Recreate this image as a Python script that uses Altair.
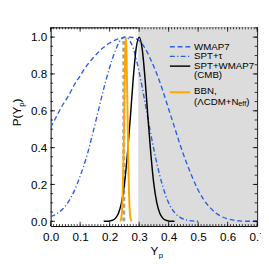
import altair as alt
import pandas as pd

# ---------------- data ----------------
wmap_x = [0.00, 0.02, 0.04, 0.06, 0.08, 0.10, 0.12, 0.14, 0.16, 0.18, 0.20, 0.22, 0.24, 0.26,
          0.28, 0.30, 0.32, 0.34, 0.36, 0.38, 0.40, 0.42, 0.44, 0.46, 0.48, 0.50, 0.52, 0.54,
          0.56, 0.58, 0.60, 0.62, 0.64, 0.66, 0.68, 0.70]
wmap_y = [0.51, 0.57, 0.63, 0.68, 0.74, 0.79, 0.84, 0.88, 0.915, 0.945, 0.968, 0.985, 0.995, 1.0,
          0.998, 0.98, 0.94, 0.875, 0.80, 0.71, 0.61, 0.51, 0.41, 0.32, 0.24, 0.17, 0.115, 0.075,
          0.045, 0.025, 0.013, 0.006, 0.002, 0.0, 0.0, 0.0]

spt_x = [0.00, 0.02, 0.04, 0.06, 0.08, 0.10, 0.12, 0.14, 0.16, 0.18, 0.20, 0.22, 0.24, 0.25,
         0.26, 0.28, 0.30, 0.32, 0.34, 0.36, 0.38, 0.40, 0.42, 0.44, 0.46, 0.48, 0.50]
spt_y = [0.025, 0.04, 0.065, 0.105, 0.165, 0.245, 0.34, 0.46, 0.59, 0.72, 0.835, 0.93, 0.99, 1.0,
         0.995, 0.94, 0.81, 0.645, 0.47, 0.315, 0.19, 0.10, 0.048, 0.02, 0.007, 0.002, 0.0]

cmb_x = [0.18, 0.19, 0.20, 0.21, 0.22, 0.23, 0.24, 0.25, 0.26, 0.27, 0.28, 0.29, 0.30,
         0.31, 0.32, 0.33, 0.34, 0.35, 0.36, 0.37, 0.38, 0.39, 0.40, 0.41, 0.42]
cmb_y = [0.0, 0.0005, 0.002, 0.006, 0.017, 0.044, 0.10, 0.20, 0.36, 0.56, 0.775, 0.94, 1.0,
         0.94, 0.775, 0.56, 0.36, 0.20, 0.10, 0.044, 0.017, 0.006, 0.002, 0.0005, 0.0]

bbn_x = [0.235, 0.238, 0.241, 0.244, 0.247, 0.250, 0.253, 0.255, 0.257, 0.260, 0.263,
         0.266, 0.269, 0.272, 0.275]
bbn_y = [0.001, 0.008, 0.039, 0.135, 0.347, 0.66, 0.936, 1.0, 0.936, 0.66, 0.347,
         0.135, 0.039, 0.008, 0.001]

ref_line_x = [0.248]
ref_line_y0 = [0.0]
ref_line_y1 = [1.0]

shade_x0 = [0.297]
shade_x1 = [0.70]

x_major = [0.0, 0.1, 0.2, 0.3, 0.4, 0.5, 0.6, 0.7]
y_major = [0.0, 0.2, 0.4, 0.6, 0.8, 1.0]
x_minor = [round(i * 0.01, 2) for i in range(71)]
y_minor = [round(i * 0.05, 2) for i in range(22)]

x_domain = [0.0, 0.7]
y_domain = [-0.026, 1.053]

# ---------------- styling ----------------
W, H = 213, 205
FONT = "Liberation Sans"
BLUE = "#2a5ee8"
ORANGE = "#ffa500"
LEG = 10

xs = alt.Scale(domain=x_domain, nice=False, zero=False)
ys = alt.Scale(domain=y_domain, nice=False, zero=False)
x_axis = alt.Axis(values=x_major, format=".1f", title=None, ticks=False, tickSize=0, domain=False,
                  grid=False, labelFlush=False, labelOverlap=False, labelFontSize=12,
                  labelFont=FONT, labelColor="black", labelPadding=6)
y_axis = alt.Axis(values=y_major, format=".1f", title=None, ticks=False, tickSize=0, domain=False,
                  grid=False, labelFlush=False, labelOverlap=False, labelFontSize=12,
                  labelFont=FONT, labelColor="black", labelPadding=4)

one = pd.DataFrame({"a": [0]})


def curve(xv, yv, color, dash=None, width=1.4):
    df = pd.DataFrame({"x": xv, "y": yv})
    kw = dict(color=color, strokeWidth=width, interpolate="monotone", clip=True)
    if dash:
        kw["strokeDash"] = dash
    return alt.Chart(df).mark_line(**kw).encode(
        x=alt.X("x:Q", scale=xs, axis=x_axis),
        y=alt.Y("y:Q", scale=ys, axis=y_axis),
    )


shade = alt.Chart(pd.DataFrame({"x0": shade_x0, "x1": shade_x1})).mark_rect(color="#dcdcdc").encode(
    x=alt.X("x0:Q", scale=xs, axis=x_axis), x2="x1:Q",
    y=alt.value(0), y2=alt.value(H),
)

ref_line = alt.Chart(pd.DataFrame({"x": ref_line_x, "y0": ref_line_y0, "y1": ref_line_y1})).mark_rule(
    color="#a0a0a0", strokeWidth=3, strokeDash=[4, 3]).encode(
    x=alt.X("x:Q", scale=xs, axis=x_axis),
    y=alt.Y("y0:Q", scale=ys, axis=y_axis), y2="y1:Q",
)

wmap = curve(wmap_x, wmap_y, BLUE, dash=[5, 3])
spt = curve(spt_x, spt_y, BLUE, dash=[5, 2.5, 1.2, 2.5])
cmb = curve(cmb_x, cmb_y, "black", width=1.5)
bbn = curve(bbn_x, bbn_y, ORANGE, width=2)


# ticks on all four sides, pointing inward
def xticks(vals, length):
    df = pd.DataFrame({"t": vals})
    bot = alt.Chart(df).mark_rule(color="black", strokeWidth=0.8).encode(
        x=alt.X("t:Q", scale=xs, axis=x_axis), y=alt.value(H), y2=alt.value(H - length))
    top = alt.Chart(df).mark_rule(color="black", strokeWidth=0.8).encode(
        x=alt.X("t:Q", scale=xs, axis=x_axis), y=alt.value(0), y2=alt.value(length))
    return [bot, top]


def yticks(vals, length):
    df = pd.DataFrame({"t": vals})
    left = alt.Chart(df).mark_rule(color="black", strokeWidth=0.8).encode(
        y=alt.Y("t:Q", scale=ys, axis=y_axis), x=alt.value(0), x2=alt.value(length))
    right = alt.Chart(df).mark_rule(color="black", strokeWidth=0.8).encode(
        y=alt.Y("t:Q", scale=ys, axis=y_axis), x=alt.value(W), x2=alt.value(W - length))
    return [left, right]


ticks = xticks(x_minor, 2) + xticks(x_major, 4.5) + yticks(y_minor, 2.5) + yticks(y_major, 4.5)


def txt(s, x, y, size=LEG, angle=None, align="left", baseline="middle"):
    kw = dict(text=s, font=FONT, fontSize=size, color="black", align=align, baseline=baseline)
    if angle is not None:
        kw["angle"] = angle
    return alt.Chart(one).mark_text(**kw).encode(x=alt.value(x), y=alt.value(y))


def leg_line(y, color, dash=None, width=1.4):
    kw = dict(color=color, strokeWidth=width)
    if dash:
        kw["strokeDash"] = dash
    return alt.Chart(one).mark_rule(**kw).encode(x=alt.value(123), x2=alt.value(144), y=alt.value(y))


legend = [
    leg_line(20, BLUE, [5, 3]), txt("WMAP7", 148, 20),
    leg_line(30, BLUE, [5, 2.5, 1.2, 2.5]), txt("SPT+τ", 148, 30),
    leg_line(40, "black", width=1.5), txt("SPT+WMAP7", 148, 40), txt("(CMB)", 148, 49.5),
    leg_line(67, ORANGE, width=2), txt("BBN,", 148, 66),
    txt("(ΛCDM+N", 148, 77), txt("eff", 193.5, 79.5, size=7.5), txt(")", 201.8, 77),
]

titles = [
    txt("Y", 103, 235, size=12, baseline="alphabetic"),
    txt("p", 111.5, 237.5, size=8, baseline="alphabetic"),
    txt("P(Y", -31, 102, size=12, angle=270, baseline="alphabetic"),
    txt("p", -28, 82, size=8, angle=270, baseline="alphabetic"),
    txt(")", -31, 77.6, size=12, angle=270, baseline="alphabetic"),
]

chart = alt.layer(shade, ref_line, wmap, spt, cmb, bbn, *ticks, *legend, *titles).properties(
    width=W, height=H,
    autosize=alt.AutoSizeParams(type="none"),
    padding={"left": 44, "top": 16, "right": 4, "bottom": 30},
).configure_view(stroke="black", strokeWidth=1)

chart.save("out.html", embed_options={"renderer": "svg", "actions": False})
